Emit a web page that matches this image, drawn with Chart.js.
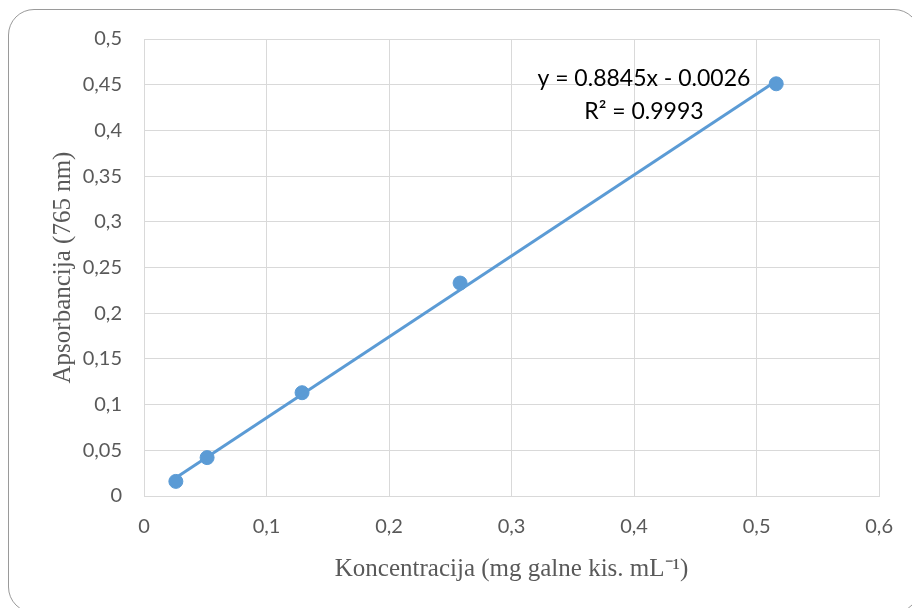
<!DOCTYPE html>
<html>
<head>
<meta charset="utf-8">
<script src="https://cdn.jsdelivr.net/npm/chart.js@4.4.0/dist/chart.umd.min.js"></script>
<style>
  html, body { margin: 0; padding: 0; background: #fff; overflow: hidden; }
  #wrap { position: relative; width: 912px; height: 608px; }
  #frame { position: absolute; left: 8px; top: 9px; width: 912px; height: 604px;
           border: 1.5px solid #9a9a9a; border-radius: 26px; box-sizing: border-box; }
  canvas { position: absolute; left: 0; top: 0; }
</style>
</head>
<body>
<div id="wrap">
  <div id="frame"></div>
  <canvas id="grafik" width="912" height="608"></canvas>
</div>
<script>
// koncentracija (mg/mL) i apsorbancija ocitane sa slike
var koncentracija = [0.026, 0.0515, 0.129, 0.258, 0.516];
var apsorbancija  = [0.016, 0.042, 0.113, 0.233, 0.451];

// krajevi linije trenda
var trendX = [0.026, 0.516];
var trendY = [0.020, 0.454];

var xTicks = ["0", "0,1", "0,2", "0,3", "0,4", "0,5", "0,6"];
var yTicks = ["0", "0,05", "0,1", "0,15", "0,2", "0,25", "0,3", "0,35", "0,4", "0,45", "0,5"];

var jednacina = ["y = 0.8845x - 0.0026", "R² = 0.9993"];

var tacke = [];
for (var i = 0; i < koncentracija.length; i++) {
  tacke.push({x: koncentracija[i], y: apsorbancija[i]});
}
var trend = [];
for (var i = 0; i < trendX.length; i++) {
  trend.push({x: trendX[i], y: trendY[i]});
}

var plava = "#5b9bd5";
var siva = "#595959";
var mreza = "#d9d9d9";

// tekst jednacine, vezan za koordinate grafa
var tekstJednacine = {
  id: "tekstJednacine",
  afterDatasetsDraw: function(chart) {
    var ctx = chart.ctx;
    var xs = chart.scales.x, ys = chart.scales.y;
    var cx = xs.getPixelForValue(0.408);
    ctx.save();
    ctx.fillStyle = "#000";
    ctx.font = "23px Lato, 'Open Sans', sans-serif";
    ctx.textAlign = "center";
    ctx.textBaseline = "middle";
    ctx.fillText(jednacina[0], cx, ys.getPixelForValue(0.457));
    ctx.fillText(jednacina[1], cx, ys.getPixelForValue(0.421));
    ctx.restore();
  }
};

new Chart(document.getElementById("grafik"), {
  type: "scatter",
  data: {
    datasets: [
      {
        label: "trend",
        data: trend,
        showLine: true,
        borderColor: plava,
        borderWidth: 3,
        pointRadius: 0,
        fill: false
      },
      {
        label: "Apsorbancija",
        data: tacke,
        backgroundColor: plava,
        borderColor: plava,
        pointRadius: 7,
        pointHoverRadius: 7,
        showLine: false
      }
    ]
  },
  options: {
    responsive: false,
    animation: false,
    devicePixelRatio: 1,
    layout: { padding: { left: 48, right: 31, top: 39, bottom: 24 } },
    plugins: {
      legend: { display: false },
      tooltip: { enabled: false }
    },
    scales: {
      x: {
        type: "linear",
        min: 0, max: 0.6,
        afterFit: function(s) { s.height = 88; },
        ticks: {
          stepSize: 0.1,
          padding: 19,
          color: siva,
          font: { family: "Lato, 'Open Sans', sans-serif", size: 20 },
          callback: function(v, idx) { return xTicks[idx]; }
        },
        grid: { color: mreza, lineWidth: 1, drawTicks: false },
        border: { color: mreza },
        title: {
          display: true,
          text: "Koncentracija (mg galne kis. mL⁻¹)",
          color: siva,
          font: { family: "'Liberation Serif', 'Times New Roman', serif", size: 25 },
          padding: 0
        }
      },
      y: {
        type: "linear",
        min: 0, max: 0.5,
        afterFit: function(s) { s.width = 96; },
        ticks: {
          stepSize: 0.05,
          padding: 22,
          color: siva,
          font: { family: "Lato, 'Open Sans', sans-serif", size: 20 },
          callback: function(v, idx) { return yTicks[idx]; }
        },
        grid: { color: mreza, lineWidth: 1, drawTicks: false },
        border: { color: mreza },
        title: {
          display: true,
          text: "Apsorbancija (765 nm)",
          color: siva,
          font: { family: "'Liberation Serif', 'Times New Roman', serif", size: 25 },
          padding: 0
        }
      }
    }
  },
  plugins: [tekstJednacine]
});
</script>
</body>
</html>
